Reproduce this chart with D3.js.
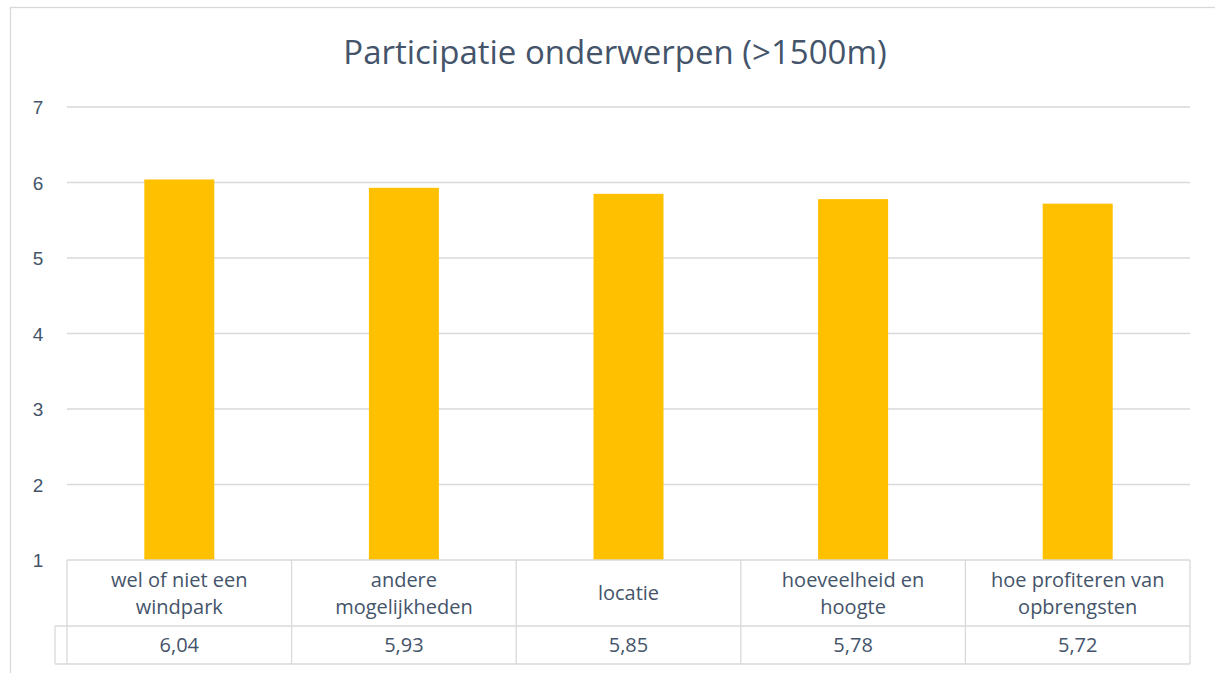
<!DOCTYPE html>
<html lang="nl">
<head>
    <meta charset="UTF-8">
    <title>Participatie onderwerpen (>1500m)</title>
    <script src="https://d3js.org/d3.v7.min.js"></script>
    <style>
        body {
            margin: 0;
            background: #ffffff;
            font-family: "Open Sans", Arial, sans-serif;
        }
        .grid line {
            stroke: #d9d9d9;
            stroke-width: 1.3;
        }
        .y-axis text {
            fill: #44546a;
            font-size: 19px;
        }
        .cell-text {
            fill: #44546a;
            font-size: 20px;
        }
        .title {
            fill: #44546a;
            font-size: 33px;
        }
        .table-line {
            stroke: #d9d9d9;
            stroke-width: 1.3;
            fill: none;
        }
    </style>
</head>
<body>
    <svg id="chart" width="1215" height="673"></svg>

    <script>
        const categories = [
            "wel of niet een\nwindpark",
            "andere\nmogelijkheden",
            "locatie",
            "hoeveelheid en\nhoogte",
            "hoe profiteren van\nopbrengsten"
        ];
        const values = [6.04, 5.93, 5.85, 5.78, 5.72];
        const valueLabels = ["6,04", "5,93", "5,85", "5,78", "5,72"];
        const yTicks = [1, 2, 3, 4, 5, 6, 7];

        const svg = d3.select("#chart");

        const plot = {left: 67, right: 1190, top: 107, bottom: 560};
        const row1 = 626, row2 = 664;

        // outer chart border
        svg.append("rect")
            .attr("x", 10.5)
            .attr("y", 7.5)
            .attr("width", 1220)
            .attr("height", 700)
            .attr("fill", "none")
            .attr("stroke", "#d9d9d9")
            .attr("stroke-width", 1.3);

        svg.append("text")
            .attr("class", "title")
            .attr("x", 615)
            .attr("y", 64)
            .attr("text-anchor", "middle")
            .text("Participatie onderwerpen (>1500m)");

        const x = d3.scaleBand()
            .domain(categories)
            .range([plot.left, plot.right])
            .paddingInner(0)
            .paddingOuter(0);

        const y = d3.scaleLinear()
            .domain([1, 7])
            .range([plot.bottom, plot.top]);

        // gridlines
        svg.append("g")
            .attr("class", "grid")
            .selectAll("line")
            .data(yTicks.slice(1))
            .enter()
            .append("line")
            .attr("x1", plot.left)
            .attr("x2", plot.right)
            .attr("y1", d => y(d))
            .attr("y2", d => y(d));

        // y axis labels
        const yAxis = svg.append("g")
            .attr("class", "y-axis")
            .attr("transform", `translate(${plot.left - 20},0)`)
            .call(d3.axisLeft(y).tickValues(yTicks).tickSize(0).tickPadding(0).tickFormat(d3.format("d")));
        yAxis.select(".domain").remove();
        yAxis.selectAll("text").attr("dy", "0.35em").attr("text-anchor", "middle").attr("x", -9);

        // bars
        const barW = 70;
        svg.selectAll(".bar")
            .data(values)
            .enter()
            .append("rect")
            .attr("class", "bar")
            .attr("x", (d, i) => x(categories[i]) + x.bandwidth() / 2 - barW / 2)
            .attr("y", d => y(d))
            .attr("width", barW)
            .attr("height", d => y(1) - y(d))
            .attr("fill", "#ffc000");

        // data table
        const table = svg.append("g");
        table.append("line").attr("class", "table-line")
            .attr("x1", plot.left).attr("x2", plot.right)
            .attr("y1", plot.bottom).attr("y2", plot.bottom);
        table.append("line").attr("class", "table-line")
            .attr("x1", plot.left - 12).attr("x2", plot.right)
            .attr("y1", row1).attr("y2", row1);
        table.append("line").attr("class", "table-line")
            .attr("x1", plot.left - 12).attr("x2", plot.right)
            .attr("y1", row2).attr("y2", row2);
        table.append("line").attr("class", "table-line")
            .attr("x1", plot.left - 12).attr("x2", plot.left - 12)
            .attr("y1", row1).attr("y2", row2);

        const edges = categories.map(c => x(c)).concat([plot.right]);
        table.selectAll(".vline")
            .data(edges)
            .enter()
            .append("line")
            .attr("class", "table-line")
            .attr("x1", d => d).attr("x2", d => d)
            .attr("y1", plot.bottom).attr("y2", row2);

        categories.forEach((c, i) => {
            const lines = c.split("\n");
            const cx = x(c) + x.bandwidth() / 2;
            const mid = (plot.bottom + row1) / 2;
            const lh = 27;
            const t = table.append("text")
                .attr("class", "cell-text")
                .attr("text-anchor", "middle");
            lines.forEach((l, j) => {
                t.append("tspan")
                    .attr("x", cx)
                    .attr("y", mid + (j - (lines.length - 1) / 2) * lh)
                    .attr("dy", "0.35em")
                    .text(l);
            });
            table.append("text")
                .attr("class", "cell-text")
                .attr("text-anchor", "middle")
                .attr("x", cx)
                .attr("y", (row1 + row2) / 2)
                .attr("dy", "0.35em")
                .text(valueLabels[i]);
        });
    </script>
</body>
</html>
